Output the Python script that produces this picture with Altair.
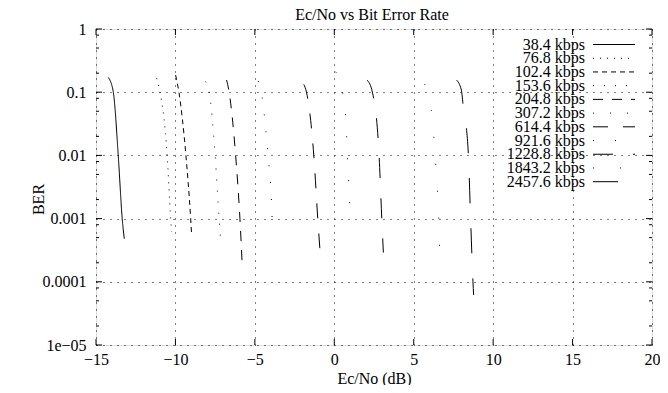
import altair as alt
import pandas as pd

# ---- data ----
chart_title = "Ec/No vs Bit Error Rate"
rates = ["38.4 kbps", "76.8 kbps", "102.4 kbps", "153.6 kbps", "204.8 kbps",
         "307.2 kbps", "614.4 kbps", "921.6 kbps", "1228.8 kbps", "1843.2 kbps",
         "2457.6 kbps"]

ecno_38_4 = [-14.23, -13.91, -13.6, -13.35, -13.22]
ber_38_4 = [0.172, 0.1, 0.01, 0.001, 0.00048]
ecno_76_8 = [-11.18, -10.97, -10.52, -10.30, -10.24]
ber_76_8 = [0.166, 0.1, 0.01, 0.001, 0.00062]
ecno_102_4 = [-9.99, -9.78, -9.34, -9.04, -8.98]
ber_102_4 = [0.187, 0.1, 0.01, 0.001, 0.00055]
ecno_153_6 = [-8.10, -7.87, -7.50, -7.25, -7.14]
ber_153_6 = [0.147, 0.1, 0.01, 0.001, 0.00042]
ecno_204_8 = [-6.78, -6.62, -6.21, -5.94, -5.80]
ber_204_8 = [0.156, 0.1, 0.01, 0.001, 0.000196]
ecno_307_2 = [-4.79, -4.54, -4.31, -4.12, -3.97, -3.89]
ber_307_2 = [0.15, 0.083, 0.025, 0.0074, 0.0023, 0.00068]
ecno_614_4 = [-1.92, -1.75, -1.29, -1.04, -0.91]
ber_614_4 = [0.133, 0.1, 0.01, 0.001, 0.00034]
ecno_921_6 = [0.09, 0.52, 0.70, 0.83, 0.96, 1.02]
ber_921_6 = [0.21, 0.10, 0.047, 0.0095, 0.0019, 0.00089]
ecno_1228_8 = [2.06, 2.40, 2.82, 2.99, 3.09]
ber_1228_8 = [0.156, 0.1, 0.01, 0.001, 0.00029]
ecno_1843_2 = [5.69, 6.11, 6.26, 6.38, 6.49, 6.57, 6.62, 6.68]
ber_1843_2 = [0.135, 0.052, 0.02, 0.0076, 0.0029, 0.0011, 0.00042, 0.00016]
ecno_2457_6 = [7.69, 8.0, 8.10, 8.44, 8.58, 8.73, 8.77]
ber_2457_6 = [0.156, 0.108, 0.066, 0.0105, 0.001, 0.0001, 0.000062]

x_tick_values = [-15, -10, -5, 0, 5, 10, 15, 20]
y_tick_values = [1e-5, 1e-4, 1e-3, 1e-2, 1e-1, 1]
y_tick_labels = ["1e\u221205", "0.0001", "0.001", "0.01", "0.1", "1"]
y_minor_values = [m * 10.0 ** k for k in range(-5, 0) for m in (2, 5, 8)]

# ---- styles ----
dash_patterns = [[1, 0], [1, 6], [5, 4], [1, 10], [10, 9], [1, 16],
                 [15, 15], [1, 21], [20, 20], [1, 26], [25, 25]]
FONT = "Liberation Serif"
W, H = 556, 316

series_x = [ecno_38_4, ecno_76_8, ecno_102_4, ecno_153_6, ecno_204_8, ecno_307_2,
            ecno_614_4, ecno_921_6, ecno_1228_8, ecno_1843_2, ecno_2457_6]
series_y = [ber_38_4, ber_76_8, ber_102_4, ber_153_6, ber_204_8, ber_307_2,
            ber_614_4, ber_921_6, ber_1228_8, ber_1843_2, ber_2457_6]

rows = []
for name, xs, ys in zip(rates, series_x, series_y):
    for i, (xv, yv) in enumerate(zip(xs, ys)):
        rows.append({"rate": name, "ecno": xv, "ber": yv, "order": i})
df = pd.DataFrame(rows)

xscale = alt.Scale(domain=[-15, 20], nice=False, zero=False)
yscale = alt.Scale(type="log", domain=[1e-5, 1], nice=False)
dash_scale = alt.Scale(domain=rates, range=dash_patterns)

label_expr = ""
for v, lab in zip(y_tick_values, y_tick_labels):
    label_expr += f"datum.value < {v * 3} ? '{lab}' : "
label_expr += "''"

xaxis = alt.Axis(values=x_tick_values, grid=True, gridDash=[1, 6], gridColor="black",
                 gridOpacity=1, domain=False, ticks=False, labelFont=FONT,
                 labelFontSize=16, labelColor="black", labelPadding=6,
                 labelFlush=False, labelOverlap=False, labelBound=False,
                 title="Ec/No (dB)", titleFont=FONT, titleFontSize=16,
                 titleFontWeight="normal", titleColor="black",
                 titleBaseline="alphabetic", titleY=38, titleX=W / 2)
yaxis = alt.Axis(values=y_tick_values, grid=True, gridDash=[1, 6], gridColor="black",
                 gridOpacity=1, domain=False, ticks=False, labelFont=FONT,
                 labelFontSize=16, labelColor="black", labelPadding=10,
                 labelFlush=False, labelOverlap=False, labelExpr=label_expr,
                 title="BER", titleFont=FONT, titleFontSize=16,
                 titleFontWeight="normal", titleColor="black", titleAngle=270,
                 titleAlign="center", titleBaseline="middle", titleX=-58, titleY=170)

curves = alt.Chart(df).mark_line(color="black", strokeWidth=1, clip=True,
                                 interpolate="monotone").encode(
    x=alt.X("ecno:Q", scale=xscale, axis=xaxis),
    y=alt.Y("ber:Q", scale=yscale, axis=yaxis),
    strokeDash=alt.StrokeDash("rate:N", scale=dash_scale, legend=None),
    detail="rate:N",
    order="order:Q",
)

xt = pd.DataFrame({"ecno": x_tick_values})
yt = pd.DataFrame({"ber": y_tick_values})
ym = pd.DataFrame({"ber": y_minor_values})

tick_bottom = alt.Chart(xt).mark_rule(color="black").encode(
    x="ecno:Q", y=alt.value(H), y2=alt.value(H - 6))
tick_top = alt.Chart(xt).mark_rule(color="black").encode(
    x="ecno:Q", y=alt.value(0), y2=alt.value(6))
tick_left = alt.Chart(yt).mark_rule(color="black").encode(
    y="ber:Q", x=alt.value(0), x2=alt.value(6))
tick_right = alt.Chart(yt).mark_rule(color="black").encode(
    y="ber:Q", x=alt.value(W), x2=alt.value(W - 6))
minor_left = alt.Chart(ym).mark_rule(color="black").encode(
    y="ber:Q", x=alt.value(0), x2=alt.value(3))
minor_right = alt.Chart(ym).mark_rule(color="black").encode(
    y="ber:Q", x=alt.value(W), x2=alt.value(W - 3))

main = alt.layer(curves, tick_bottom, tick_top, tick_left, tick_right,
                 minor_left, minor_right)

leg_df = pd.DataFrame({"rate": rates, "idx": list(range(len(rates)))})
leg_y = alt.Y("idx:Q", scale=alt.Scale(domain=[0, len(rates) - 1], range=[15.5, 152.7]),
              axis=None)
leg_text = alt.Chart(leg_df).mark_text(align="right", baseline="middle", font=FONT,
                                       fontSize=16, color="black").encode(
    x=alt.value(489), y=leg_y, text="rate:N")
leg_line = alt.Chart(leg_df).mark_rule(color="black", strokeWidth=1).encode(
    x=alt.value(497), x2=alt.value(539), y=leg_y,
    strokeDash=alt.StrokeDash("rate:N", scale=dash_scale, legend=None))

title_df = pd.DataFrame({"t": [chart_title]})
title_text = alt.Chart(title_df).mark_text(align="center", baseline="alphabetic",
                                           font=FONT, fontSize=16, color="black").encode(
    x=alt.value(W / 2 - 2), y=alt.value(-9), text="t:N")

legend = alt.layer(leg_text, leg_line, title_text)

chart = alt.layer(main, legend).resolve_scale(y="independent").properties(
    width=W, height=H,
    autosize=alt.AutoSizeParams(type="none"),
    padding={"left": 88, "top": 21, "right": 8, "bottom": 40},
).configure_view(stroke="black", strokeWidth=1).configure(background="white")

chart.save("out.html", embed_options={"renderer": "svg", "actions": False})
